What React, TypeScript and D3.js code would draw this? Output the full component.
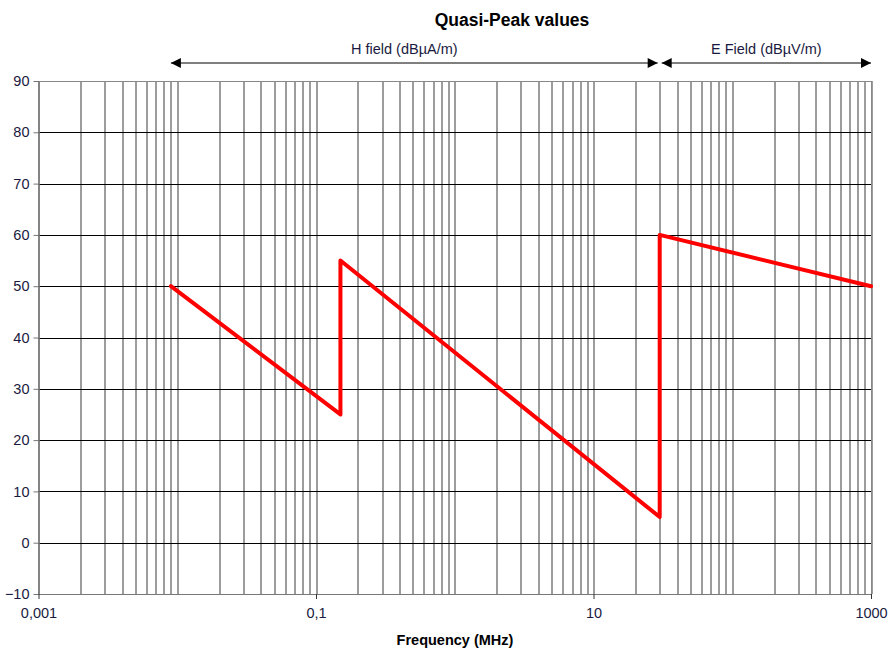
import React, { useEffect, useRef } from "react";
import * as d3 from "d3";

// limit line, frequency in MHz, level in dB
const freqs = [0.009, 0.15, 0.15, 30, 30, 1000];
const levels = [50, 25, 55, 5, 60, 50];

const xLabels = [0.001, 0.1, 10, 1000];
const yTicks = [-10, 0, 10, 20, 30, 40, 50, 60, 70, 80, 90];

const bands = [
  { label: "H field (dBµA/m)", from: 0.009, to: 30, shift: -10 },
  { label: "E Field (dBµV/m)", from: 30, to: 1000, shift: 0 },
];

const W = 889;
const H = 650;

export default function App() {
  const svgRef = useRef<SVGSVGElement | null>(null);

  useEffect(() => {
    const svg = d3.select(svgRef.current);
    svg.selectAll("*").remove();

    const margin = { top: 81, right: 18, bottom: 56, left: 38.5 };
    const innerW = W - margin.left - margin.right;
    const innerH = H - margin.top - margin.bottom;
    const font = "'Liberation Sans', Arial, sans-serif";
    const txt = "#1a1a40";

    const x = d3.scaleLog().domain([0.001, 1000]).range([0, innerW]);
    const y = d3.scaleLinear().domain([-10, 90]).range([innerH, 0]);

    const g = svg.append("g").attr("transform", `translate(${margin.left},${margin.top})`);

    // vertical grid: 1..9 per decade
    const gridX: number[] = [];
    for (let e = -3; e < 3; e++) {
      for (let m = 1; m <= 9; m++) gridX.push(m * Math.pow(10, e));
    }
    gridX.push(1000);

    g.selectAll(".vgrid")
      .data(gridX)
      .join("line")
      .attr("class", "vgrid")
      .attr("x1", (d) => Math.round(x(d)) + 0.5)
      .attr("x2", (d) => Math.round(x(d)) + 0.5)
      .attr("y1", 0)
      .attr("y2", innerH)
      .attr("stroke", "#3a3a3a")
      .attr("stroke-width", 1);

    g.selectAll(".hgrid")
      .data(yTicks)
      .join("line")
      .attr("class", "hgrid")
      .attr("x1", 0)
      .attr("x2", innerW)
      .attr("y1", (d) => Math.round(y(d)) + 0.5)
      .attr("y2", (d) => Math.round(y(d)) + 0.5)
      .attr("stroke", "#000")
      .attr("stroke-width", 1);

    // plot frame
    g.append("rect")
      .attr("x", 0.5)
      .attr("y", 0.5)
      .attr("width", innerW)
      .attr("height", innerH)
      .attr("fill", "none")
      .attr("stroke", "#888");

    // y axis
    const yAxis = g.append("g").call(
      d3.axisLeft(y).tickValues(yTicks).tickSize(5).tickSizeOuter(0).tickFormat(d3.format("d"))
    );
    yAxis.select(".domain").attr("stroke", "#777");
    yAxis.selectAll(".tick line").attr("stroke", "#777");
    yAxis
      .selectAll("text")
      .attr("x", -9)
      .style("font-family", font)
      .style("font-size", "14.5px")
      .style("fill", txt);

    // x axis
    const xAxis = g
      .append("g")
      .attr("transform", `translate(0,${innerH})`)
      .call(
        d3
          .axisBottom(x)
          .tickValues(xLabels)
          .tickSize(5)
          .tickSizeOuter(0)
          .tickFormat((d) => String(d).replace(".", ","))
      );
    xAxis.select(".domain").attr("stroke", "#777");
    xAxis.selectAll(".tick line").attr("stroke", "#333");
    xAxis
      .selectAll("text")
      .attr("y", 14)
      .style("font-family", font)
      .style("font-size", "14.5px")
      .style("fill", txt);

    // limit line
    const pts = freqs.map((f, i) => [f, levels[i]] as [number, number]);
    const line = d3
      .line<[number, number]>()
      .x((d) => x(d[0]))
      .y((d) => y(d[1]));
    g.append("path")
      .attr("d", line(pts))
      .attr("fill", "none")
      .attr("stroke", "#ff0000")
      .attr("stroke-width", 4)
      .attr("stroke-linejoin", "round")
      .attr("stroke-linecap", "round");

    // band arrows
    const defs = svg.append("defs");
    defs
      .append("marker")
      .attr("id", "arr")
      .attr("viewBox", "0 0 10 10")
      .attr("refX", 10)
      .attr("refY", 5)
      .attr("markerWidth", 12)
      .attr("markerHeight", 10)
      .attr("markerUnits", "userSpaceOnUse")
      .attr("orient", "auto-start-reverse")
      .append("path")
      .attr("d", "M0,0L10,5L0,10Z")
      .attr("fill", "#000");

    const arrowY = -18;
    bands.forEach((b) => {
      const x0 = x(b.from) + (b.from === 30 ? 2 : 0);
      const x1 = x(b.to) - (b.to === 30 ? 2 : 0);
      g.append("line")
        .attr("x1", x0)
        .attr("x2", x1)
        .attr("y1", arrowY)
        .attr("y2", arrowY)
        .attr("stroke", "#000")
        .attr("stroke-width", 1)
        .attr("marker-start", "url(#arr)")
        .attr("marker-end", "url(#arr)");
      g.append("text")
        .attr("x", (x0 + x1) / 2 + b.shift)
        .attr("y", arrowY - 9)
        .attr("text-anchor", "middle")
        .style("font-family", font)
        .style("font-size", "14.5px")
        .style("fill", txt)
        .text(b.label);
    });

    svg
      .append("text")
      .attr("x", 512)
      .attr("y", 26)
      .attr("text-anchor", "middle")
      .style("font-family", font)
      .style("font-size", "17.5px")
      .style("font-weight", "bold")
      .text("Quasi-Peak values");

    svg
      .append("text")
      .attr("x", 455)
      .attr("y", 645)
      .attr("text-anchor", "middle")
      .style("font-family", font)
      .style("font-size", "14.5px")
      .style("font-weight", "bold")
      .text("Frequency (MHz)");
  }, []);

  return (
    <div style={{ position: "fixed", left: 0, top: 0, width: W, height: H, overflow: "hidden" }}>
      <svg ref={svgRef} width={W} height={H} style={{ display: "block", background: "#fff" }} />
    </div>
  );
}
